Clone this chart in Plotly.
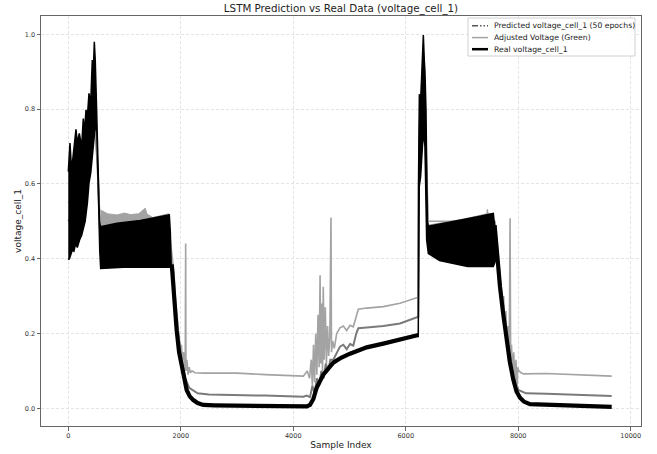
import plotly.graph_objects as go

# ---------------- data ----------------
# Real voltage_cell_1: dense oscillation bands (upper / lower envelopes)
real_band1_upper_x = [0, 30, 50, 72, 137, 161, 196, 238, 267, 290, 315, 340, 368, 400, 427, 445, 463, 480, 504, 534, 555, 570, 593, 865, 1280, 1784, 1796, 1815, 1840]
real_band1_upper_y = [0.633, 0.709, 0.66, 0.655, 0.746, 0.71, 0.735, 0.70, 0.775, 0.74, 0.798, 0.78, 0.842, 0.82, 0.931, 0.90, 0.980, 0.93, 0.80, 0.62, 0.50, 0.487, 0.486, 0.495, 0.502, 0.517, 0.519, 0.47, 0.385]
real_band1_lower_x = [0, 20, 50, 72, 100, 130, 160, 200, 238, 270, 300, 340, 368, 400, 427, 445, 470, 504, 534, 560, 576, 983, 1500, 1830]
real_band1_lower_y = [0.397, 0.40, 0.41, 0.423, 0.42, 0.44, 0.43, 0.45, 0.463, 0.48, 0.50, 0.549, 0.602, 0.63, 0.682, 0.70, 0.74, 0.76, 0.58, 0.42, 0.374, 0.377, 0.377, 0.377]

real_band2_upper_x = [6224, 6226, 6242, 6255, 6265, 6283, 6300, 6313, 6330, 6342, 6360, 6372, 6385, 6402, 6700, 7000, 7300, 7557, 7575, 7600]
real_band2_upper_y = [0.196, 0.59, 0.84, 0.80, 0.82, 0.90, 0.94, 0.998, 0.93, 0.90, 0.80, 0.60, 0.50, 0.487, 0.495, 0.505, 0.513, 0.521, 0.50, 0.46]
real_band2_lower_x = [6222, 6240, 6265, 6283, 6300, 6313, 6342, 6360, 6372, 6402, 6600, 6800, 7100, 7557, 7610]
real_band2_lower_y = [0.190, 0.593, 0.62, 0.655, 0.70, 0.74, 0.70, 0.55, 0.45, 0.414, 0.395, 0.388, 0.379, 0.379, 0.40]

# Real voltage_cell_1: smooth segments
real_decay1_x = [1840, 1880, 1927, 1970, 2016, 2060, 2105, 2160, 2223, 2300, 2400, 2600, 3000, 3500, 4000, 4179, 4240, 4298, 4357, 4417, 4534, 4712, 4850, 5009, 5306, 5601, 5898, 6100, 6224]
real_decay1_y = [0.385, 0.30, 0.209, 0.15, 0.111, 0.075, 0.049, 0.032, 0.022, 0.014, 0.009, 0.008, 0.007, 0.006, 0.005, 0.004, 0.005, 0.009, 0.025, 0.055, 0.090, 0.122, 0.135, 0.146, 0.163, 0.173, 0.183, 0.19, 0.196]
real_decay2_x = [7580, 7630, 7676, 7735, 7795, 7850, 7913, 7970, 8032, 8100, 8209, 8500, 9000, 9662]
real_decay2_y = [0.49, 0.40, 0.325, 0.25, 0.183, 0.125, 0.076, 0.045, 0.028, 0.018, 0.011, 0.009, 0.007, 0.004]

# Predicted voltage_cell_1 (50 epochs)
pred_x = [0, 100, 200, 300, 400, 460, 520, 576, 800, 1200, 1600, 1800, 1840, 1927, 2016, 2080, 2150, 2223, 2300, 2500, 3000, 3500, 4179, 4240, 4298, 4340, 4380, 4420, 4460, 4500, 4540, 4580, 4620, 4660, 4712, 4772, 4831, 4890, 4950, 5009, 5068, 5120, 5157, 5306, 5601, 5898, 6224, 6240, 6313, 6400, 7000, 7557, 7587, 7676, 7795, 7913, 8002, 8140, 8500, 9000, 9662]
pred_y = [0.50, 0.52, 0.55, 0.60, 0.70, 0.80, 0.65, 0.43, 0.43, 0.44, 0.44, 0.45, 0.39, 0.23, 0.13, 0.08, 0.055, 0.047, 0.040, 0.037, 0.036, 0.034, 0.031, 0.034, 0.030, 0.060, 0.040, 0.080, 0.060, 0.100, 0.080, 0.120, 0.100, 0.130, 0.130, 0.147, 0.165, 0.170, 0.158, 0.172, 0.168, 0.200, 0.214, 0.216, 0.220, 0.227, 0.245, 0.70, 0.90, 0.45, 0.45, 0.45, 0.48, 0.33, 0.19, 0.09, 0.049, 0.040, 0.039, 0.036, 0.033]

# Adjusted Voltage (Green)
adj_x = [0, 200, 400, 460, 520, 576, 1000, 1500, 1800, 1840, 1880, 1900, 1927, 1950, 1970, 1990, 2010, 2030, 2050, 2070, 2080, 2087, 2092, 2110, 2130, 2150, 2170, 2200, 2250, 2400, 3000, 3500, 4179,
         4250, 4290, 4320, 4340, 4360, 4380, 4400, 4420, 4440, 4460, 4477, 4490, 4510, 4520, 4534, 4550, 4570, 4590, 4610, 4630, 4650, 4671, 4680, 4700, 4730, 4772, 4831, 4890, 4950, 5009, 5068, 5120, 5157, 5306, 5601, 5898, 6224,
         6240, 6313, 6400, 7000, 7557, 7587, 7620, 7650, 7676, 7700, 7720, 7740, 7760, 7780, 7800, 7820, 7840, 7855, 7865, 7880, 7900, 7920, 7940, 7960, 7980, 7990, 8002, 8050, 8100, 8500, 9000, 9662]
adj_y = [0.55, 0.58, 0.72, 0.82, 0.65, 0.45, 0.45, 0.46, 0.47, 0.42, 0.36, 0.30, 0.26, 0.22, 0.20, 0.16, 0.17, 0.13, 0.15, 0.10, 0.12, 0.441, 0.10, 0.13, 0.09, 0.11, 0.095, 0.10, 0.095, 0.094, 0.094, 0.090, 0.086,
         0.10, 0.08, 0.13, 0.06, 0.17, 0.07, 0.20, 0.09, 0.25, 0.11, 0.356, 0.12, 0.28, 0.10, 0.325, 0.13, 0.27, 0.12, 0.22, 0.14, 0.19, 0.51, 0.15, 0.18, 0.16, 0.20, 0.215, 0.22, 0.208, 0.222, 0.218, 0.25, 0.265, 0.268, 0.272, 0.281, 0.297,
         0.75, 0.95, 0.50, 0.50, 0.50, 0.50, 0.45, 0.40, 0.36, 0.33, 0.28, 0.30, 0.22, 0.26, 0.18, 0.22, 0.14, 0.508, 0.13, 0.17, 0.10, 0.15, 0.08, 0.13, 0.05, 0.11, 0.102, 0.095, 0.092, 0.093, 0.090, 0.086]
adj_band_upper_x = [576, 700, 865, 1000, 1102, 1250, 1369, 1398, 1500, 1780]
adj_band_upper_y = [0.530, 0.520, 0.517, 0.522, 0.518, 0.520, 0.535, 0.520, 0.510, 0.520]
adj_band_lower_y = [0.40, 0.40, 0.40, 0.40, 0.40, 0.40, 0.40, 0.40, 0.40, 0.40]
adj_band2_upper_x = [6402, 7000, 7440, 7452, 7465, 7557]
adj_band2_upper_y = [0.490, 0.505, 0.520, 0.532, 0.520, 0.520]
adj_band2_lower_y = [0.42, 0.42, 0.42, 0.42, 0.42, 0.42]

x_ticks = [0, 2000, 4000, 6000, 8000, 10000]
y_ticks = [0.0, 0.2, 0.4, 0.6, 0.8, 1.0]

series_names = ["Predicted voltage_cell_1 (50 epochs)", "Adjusted Voltage (Green)", "Real voltage_cell_1"]

# ---------------- styling ----------------
FONT = "DejaVu Sans"
C_PRED = "#7a7a7a"
C_ADJ = "#a3a3a3"
C_REAL = "#000000"
W, H = 657, 454
ML, MR, MT, MB = 41, 16, 16, 28
PW, PH = W - ML - MR, H - MT - MB


def polygon(ux, uy, lx, ly):
    return list(ux) + list(lx)[::-1], list(uy) + list(ly)[::-1]


def paper_x(px):
    return (px - ML) / PW


def paper_y(py):
    return (H - MB - py) / PH


fig = go.Figure()

# Predicted
fig.add_trace(go.Scatter(x=pred_x, y=pred_y, mode="lines", name=series_names[0],
                         line=dict(color=C_PRED, width=2), showlegend=False))

# Adjusted
for ux, uy, ly in [(adj_band_upper_x, adj_band_upper_y, adj_band_lower_y),
                   (adj_band2_upper_x, adj_band2_upper_y, adj_band2_lower_y)]:
    px_, py_ = polygon(ux, uy, ux, ly)
    fig.add_trace(go.Scatter(x=px_, y=py_, mode="lines", fill="toself", fillcolor=C_ADJ,
                             line=dict(color=C_ADJ, width=1), showlegend=False, hoverinfo="skip"))
fig.add_trace(go.Scatter(x=adj_x, y=adj_y, mode="lines", name=series_names[1],
                         line=dict(color=C_ADJ, width=1.6), showlegend=False))

# Real
for ux, uy, lx, ly in [(real_band1_upper_x, real_band1_upper_y, real_band1_lower_x, real_band1_lower_y),
                       (real_band2_upper_x, real_band2_upper_y, real_band2_lower_x, real_band2_lower_y)]:
    px_, py_ = polygon(ux, uy, lx, ly)
    fig.add_trace(go.Scatter(x=px_, y=py_, mode="lines", fill="toself", fillcolor=C_REAL,
                             line=dict(color=C_REAL, width=1.5), showlegend=False, hoverinfo="skip"))
fig.add_trace(go.Scatter(x=real_decay1_x + [None] + real_decay2_x,
                         y=real_decay1_y + [None] + real_decay2_y,
                         mode="lines", name=series_names[2], connectgaps=False,
                         line=dict(color=C_REAL, width=4.2), showlegend=False))

# ---------------- matplotlib-style legend box ----------------
legend_box = dict(x0=468, x1=635, y0=18, y1=56)
legend_rows_y = [25.7, 37.6, 49.2]
legend_styles = [dict(color="#555555", width=1.5, dash="6px,2px,1.5px,2px,1.5px,2px"),
                 dict(color=C_ADJ, width=1.5),
                 dict(color=C_REAL, width=2.5)]
shapes = [dict(type="rect", xref="paper", yref="paper",
               x0=paper_x(legend_box["x0"]), x1=paper_x(legend_box["x1"]),
               y0=paper_y(legend_box["y1"]), y1=paper_y(legend_box["y0"]),
               line=dict(color="#d0d0d0", width=1), fillcolor="rgba(255,255,255,0.85)", layer="above")]
annotations = []
for name, ry, st in zip(series_names, legend_rows_y, legend_styles):
    shapes.append(dict(type="line", xref="paper", yref="paper",
                       x0=paper_x(472), x1=paper_x(488), y0=paper_y(ry), y1=paper_y(ry),
                       line=st, layer="above"))
    annotations.append(dict(text=name, xref="paper", yref="paper", x=paper_x(492), y=paper_y(ry),
                            xanchor="left", yanchor="middle", showarrow=False,
                            font=dict(family=FONT, size=7.7, color="#222222")))

axis_common = dict(showline=True, linecolor="#666666", linewidth=1, mirror=True,
                   ticks="outside", ticklen=3.5, tickcolor="#666666", tickwidth=1,
                   showgrid=True, gridcolor="#e4e4e4", griddash="3px,2px", gridwidth=0.8,
                   zeroline=False, automargin=False, ticklabeloverflow="allow",
                   tickfont=dict(family=FONT, size=6.5, color="#333333"))

fig.update_layout(
    width=W, height=H,
    margin=dict(l=ML, r=MR, t=MT, b=MB, pad=0),
    paper_bgcolor="white", plot_bgcolor="white",
    font=dict(family=FONT, color="#222222"),
    title=dict(text="LSTM Prediction vs Real Data (voltage_cell_1)", x=0.5, xref="paper", xanchor="center",
               y=1 - 8 / H, yref="container", yanchor="middle",
               font=dict(family=FONT, size=10.3, color="#222222")),
    xaxis=dict(range=[-485, 10183], tickvals=x_ticks, ticktext=[str(v) for v in x_ticks],
               title=dict(text="Sample Index", font=dict(family=FONT, size=9), standoff=2),
               **axis_common),
    yaxis=dict(range=[-0.0473, 1.049], tickvals=y_ticks, ticktext=[f"{v:.1f}" for v in y_ticks],
               title=dict(text="voltage_cell_1", font=dict(family=FONT, size=9), standoff=1),
               **axis_common),
    shapes=shapes,
    annotations=annotations,
    showlegend=False,
)

fig.write_html("out.html", config={"displayModeBar": False},
               post_script="document.body.style.margin='0px';document.body.style.padding='0px';")
